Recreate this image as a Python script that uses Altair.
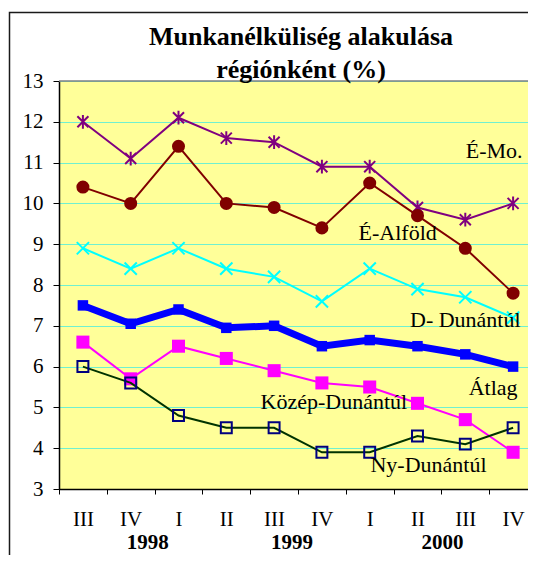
import altair as alt
import pandas as pd

QUARTERS = ["III", "IV", "I", "II", "III", "IV", "I", "II", "III", "IV"]
YEAR_OF_Q = [1998, 1998, 1999, 1999, 1999, 1999, 2000, 2000, 2000, 2000]
CATS = [f"{y} {q}" for y, q in zip(YEAR_OF_Q, QUARTERS)]

E_MO = [12.0, 11.1, 12.1, 11.6, 11.5, 10.9, 10.9, 9.9, 9.6, 10.0]
E_ALFOLD = [10.4, 10.0, 11.4, 10.0, 9.9, 9.4, 10.5, 9.7, 8.9, 7.8]
D_DUNANTUL = [8.9, 8.4, 8.9, 8.4, 8.2, 7.6, 8.4, 7.9, 7.7, 7.2]
ATLAG = [7.5, 7.05, 7.4, 6.95, 7.0, 6.5, 6.65, 6.5, 6.3, 6.0]
KOZEP = [6.6, 5.7, 6.5, 6.2, 5.9, 5.6, 5.5, 5.1, 4.7, 3.9]
NY = [6.0, 5.6, 4.8, 4.5, 4.5, 3.9, 3.9, 4.3, 4.1, 4.5]

TITLE = ["Munkanélküliség alakulása", "régiónként (%)"]
YEAR_LABELS = ["1998", "1999", "2000"]
YEAR_ANCHOR = ["1998 IV", "1999 III", "2000 II"]

SERIES_LABELS = ["É-Mo.", "É-Alföld", "D- Dunántúl", "Átlag", "Közép-Dunántúl", "Ny-Dunántúl"]
LABEL_ANCHOR = ["2000 IV", "2000 I", "2000 III", "2000 IV", "1999 IV", "2000 II"]
LABEL_LEVEL = [11.28, 9.27, 7.14, 5.48, 5.13, 3.59]

W, H = 478, 408
PAD_LEFT, PAD_TOP, PAD_BOTTOM = 51, 73, 66
PAD_RIGHT = 520 - PAD_LEFT - W
SERIF = "Liberation Serif"

xscale = alt.Scale(type="band", domain=CATS, paddingInner=0, paddingOuter=0)
yscale = alt.Scale(domain=[3, 13], nice=False, zero=False)

xaxis = alt.Axis(
    title=None, labelExpr="split(datum.value, ' ')[1]", tickBand="extent",
    tickSize=5, tickColor="black", domainColor="black", domainWidth=1.5,
    labelFont=SERIF, labelFontSize=21, labelColor="black", labelPadding=14,
    labelAngle=0, grid=False,
)
yaxis = alt.Axis(
    title=None, values=list(range(3, 14)), tickSize=6, tickColor="black",
    domainColor="black", domainWidth=1.5, labelFont=SERIF, labelFontSize=21,
    labelColor="black", labelPadding=10, grid=True, gridColor="#70F0D0",
    gridWidth=1,
)


def X():
    return alt.X("cat:N", sort=CATS, scale=xscale, axis=xaxis, bandPosition=0.5)


def Y():
    return alt.Y("v:Q", scale=yscale, axis=yaxis)


def frame(values):
    return pd.DataFrame({"cat": CATS, "v": values})


STAR = "M0,-1L0,1M-0.8,-0.8L0.8,0.8M-0.8,0.8L0.8,-0.8"
XMARK = "M-1,-1L1,1M-1,1L1,-1"

layers = []

# top border of plot area
layers.append(
    alt.Chart(pd.DataFrame({"a": [0]})).mark_rule(color="#808080", strokeWidth=1.5)
    .encode(x=alt.value(0), x2=alt.value(W), y=alt.value(0))
)

# É-Mo.
d = frame(E_MO)
layers.append(alt.Chart(d).mark_line(color="#800080", strokeWidth=2).encode(x=X(), y=Y()))
layers.append(alt.Chart(d).mark_point(shape=STAR, size=190, filled=False, color="#800080",
                                      strokeWidth=2, opacity=1).encode(x=X(), y=Y()))
# É-Alföld
d = frame(E_ALFOLD)
layers.append(alt.Chart(d).mark_line(color="#800000", strokeWidth=2).encode(x=X(), y=Y()))
layers.append(alt.Chart(d).mark_point(shape="circle", size=170, filled=True, color="#800000",
                                      opacity=1).encode(x=X(), y=Y()))
# D-Dunántúl
d = frame(D_DUNANTUL)
layers.append(alt.Chart(d).mark_line(color="#00FFFF", strokeWidth=2).encode(x=X(), y=Y()))
layers.append(alt.Chart(d).mark_point(shape=XMARK, size=150, filled=False, color="#00FFFF",
                                      strokeWidth=2, opacity=1).encode(x=X(), y=Y()))
# Átlag
d = frame(ATLAG)
layers.append(alt.Chart(d).mark_line(color="#0000FF", strokeWidth=7).encode(x=X(), y=Y()))
layers.append(alt.Chart(d).mark_point(shape="square", size=110, filled=True, color="#0000FF",
                                      opacity=1).encode(x=X(), y=Y()))
# Közép-Dunántúl
d = frame(KOZEP)
layers.append(alt.Chart(d).mark_line(color="#FF00FF", strokeWidth=2).encode(x=X(), y=Y()))
layers.append(alt.Chart(d).mark_point(shape="square", size=170, filled=True, color="#FF00FF",
                                      opacity=1).encode(x=X(), y=Y()))
# Ny-Dunántúl
d = frame(NY)
layers.append(alt.Chart(d).mark_line(color="#003300", strokeWidth=2).encode(x=X(), y=Y()))
layers.append(alt.Chart(d).mark_point(shape="square", size=120, filled=False, color="#000080",
                                      strokeWidth=2, opacity=1).encode(x=X(), y=Y()))

# series labels
label_dx = [-19, 28, 0, -20, 12, 11]
for txt, cat, lvl, dx in zip(SERIES_LABELS, LABEL_ANCHOR, LABEL_LEVEL, label_dx):
    ld = pd.DataFrame({"cat": [cat], "v": [lvl], "t": [txt]})
    layers.append(
        alt.Chart(ld).mark_text(font=SERIF, fontSize=22, color="black", align="center",
                                baseline="middle", dx=dx)
        .encode(x=X(), y=Y(), text="t:N")
    )

# year labels under the axis
year_dx = [17, 18, 25]
for yl, cat, dx in zip(YEAR_LABELS, YEAR_ANCHOR, year_dx):
    yd = pd.DataFrame({"cat": [cat], "t": [yl]})
    layers.append(
        alt.Chart(yd).mark_text(font=SERIF, fontSize=21, fontWeight="bold", color="black",
                                align="center", baseline="alphabetic", dx=dx)
        .encode(x=X(), y=alt.value(H + PAD_BOTTOM - 6), text="t:N")
    )

# title
for line, yy in zip(TITLE, [-36, -3]):
    td = pd.DataFrame({"t": [line]})
    layers.append(
        alt.Chart(td).mark_text(font=SERIF, fontSize=26, fontWeight="bold", color="black",
                                align="center", baseline="alphabetic")
        .encode(x=alt.value(242), y=alt.value(yy), text="t:N")
    )

# outer frame
layers.append(
    alt.Chart(pd.DataFrame({"a": [0]})).mark_rect(fillOpacity=0, stroke="#1a1a1a",
                                                   strokeWidth=1.5)
    .encode(x=alt.value(-49.5), x2=alt.value(700), y=alt.value(-68.5), y2=alt.value(700))
)

chart = alt.layer(*layers).properties(
    width=W, height=H,
    autosize=alt.AutoSizeParams(type="none"),
    padding={"left": PAD_LEFT, "top": PAD_TOP, "right": PAD_RIGHT, "bottom": PAD_BOTTOM},
    background="white",
).configure_view(fill="#FFFF99", strokeWidth=0)

chart.save("out.html", embed_options={"renderer": "svg", "actions": False})
